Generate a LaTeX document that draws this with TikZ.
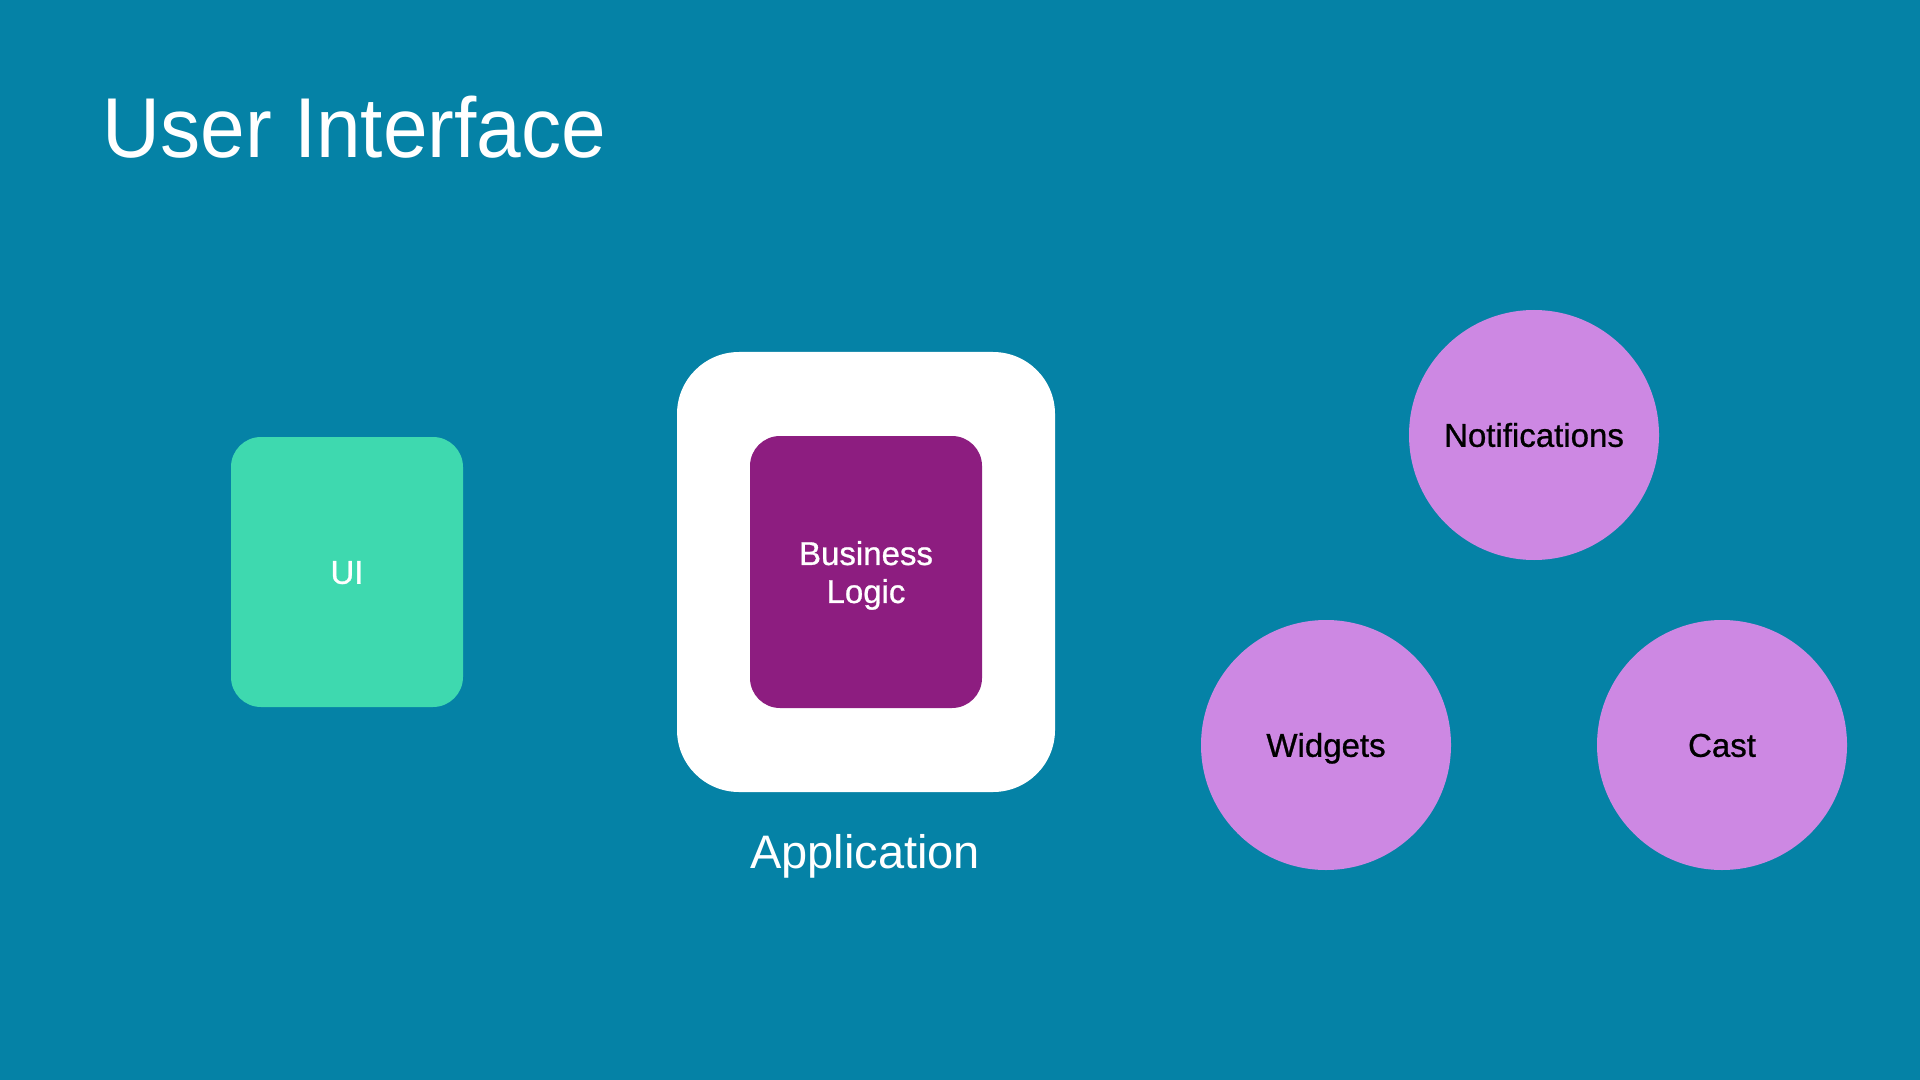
\documentclass[tikz,border=0pt]{standalone}
\usepackage{fontspec}
\setmainfont{Liberation Sans}
\newfontfamily\mediumfont[FakeBold=0.8]{Liberation Sans}
\definecolor{bgblue}{HTML}{0582A6}
\definecolor{uigreen}{HTML}{3ED9AF}
\definecolor{blpurple}{HTML}{8D1D80}
\definecolor{circlepink}{HTML}{CD88E3}
\begin{document}
\begin{tikzpicture}[x=0.5pt,y=-0.5pt,
  box/.style={rectangle,inner sep=0pt,outer sep=0pt},
  labelfont/.style={font=\mediumfont\fontsize{16.5}{19}\selectfont},
  capcenter/.style={text height=11.8pt,text depth=0pt},
  bubble/.style={circle,fill=circlepink,inner sep=0pt,outer sep=0pt,minimum size=125pt,
    text=black,labelfont,capcenter}]
\fill[bgblue] (0,0) rectangle (1920,1080);
\useasboundingbox (0,0) rectangle (1920,1080);
\node[anchor=base west,text=white,inner sep=0pt,font=\fontsize{42.5}{50}\selectfont] (title) at (102,158) {\scalebox{0.944}[1]{User Interface}};
\node[box,fill=uigreen,rounded corners=15pt,minimum width=116pt,minimum height=135pt,
  text=white,labelfont,capcenter] (ui) at (347,572) {UI};
\node[box,fill=white,rounded corners=31pt,minimum width=189pt,minimum height=220pt] (app) at (866,572) {};
\node[box,fill=blpurple,rounded corners=15pt,minimum width=116pt,minimum height=136pt,
  text=white,labelfont,align=center,text depth=0pt] (bl) at (866,572) {Business\\Logic};
\node[anchor=base,text=white,inner sep=0pt,font=\fontsize{23.5}{28}\selectfont] (applabel) at (865,868) {Application};
\node[bubble] (notif) at (1534,435) {Notifications};
\node[bubble] (widgets) at (1326,745) {Widgets};
\node[bubble] (cast) at (1722,745) {Cast};
\end{tikzpicture}
\end{document}
